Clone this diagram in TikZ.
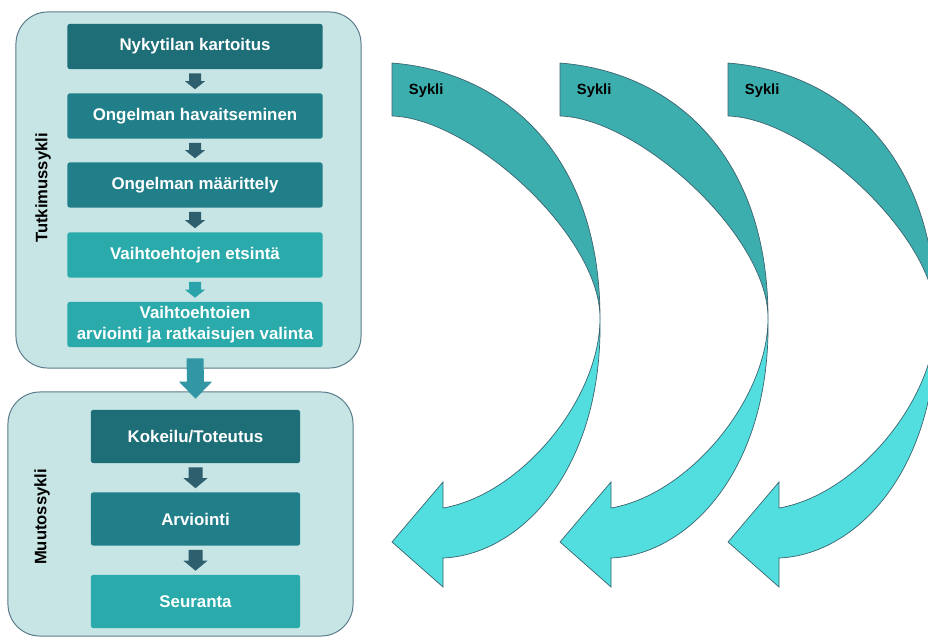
\documentclass[tikz,border=0pt]{standalone}
\usepackage{fontspec}
\setmainfont{Liberation Sans}
\usepackage{xcolor}
\usetikzlibrary{positioning,calc}

\definecolor{kehysvari}{HTML}{C7E5E5}
\definecolor{reuna}{HTML}{5B7B88}
\definecolor{tumma}{HTML}{1E6E78}
\definecolor{keski}{HTML}{217F8A}
\definecolor{vaalea}{HTML}{2AAAAA}
\definecolor{nuolitumma}{HTML}{2D5F6E}
\definecolor{nuolivaalea}{HTML}{2BA3AA}
\definecolor{isonuoli}{HTML}{3296A5}
\definecolor{kaaritumma}{HTML}{3DAEAE}
\definecolor{kaarivaalea}{HTML}{52DEDE}
\definecolor{kaarireuna}{HTML}{3C6470}

\tikzset{
  kehys/.style={draw=reuna, line width=0.7pt, fill=kehysvari, rounded corners=0.8cm},
  laatikko/.style={rounded corners=1.5pt, text=white, align=center, inner sep=0pt,
    font=\fontsize{12}{15}\selectfont\bfseries},
  sivu/.style={rotate=90, font=\fontsize{11.8}{14}\selectfont\bfseries},
  kaari/.style={draw=kaarireuna, line width=0.5pt}
}

% nuoli: vari, mista, mihin, rako, puolivarsi, puolikarki, karjen pituus
\newcommand{\nuoli}[7]{%
  \fill[#1] ($(#2.south)+(-#5,#4)$) -- ($(#3.north)+(-#5,-#4-#7)$) -- ($(#3.north)+(-#6,-#4-#7)$)
    -- ($(#3.north)+(0,-#4)$) -- ($(#3.north)+(#6,-#4-#7)$) -- ($(#3.north)+(#5,-#4-#7)$)
    -- ($(#2.south)+(#5,#4)$) -- cycle;}

\begin{document}
\begin{tikzpicture}[x=0.025cm, y=-0.025cm]
    \useasboundingbox (0,0) rectangle (928,638);
    \clip (0,0) rectangle (928,638);

    % kehykset
    \node[kehys, minimum width=8.625cm, minimum height=8.9cm] (tutkimus) at (188.5,190) {};
    \node[kehys, minimum width=8.625cm, minimum height=6.1cm] (muutos) at (180.5,514) {};
    \node[sivu] (tlabel) at (43,188) {Tutkimussykli};
    \node[sivu] (mlabel) at (42,517) {Muutossykli};

    % tutkimussykli
    \node[laatikko, fill=tumma, minimum width=6.375cm, minimum height=1.125cm] (t1) at (195,46.5) {Nykytilan kartoitus};
    \node[laatikko, fill=keski, minimum width=6.375cm, minimum height=1.125cm] (t2) at (195,116) {Ongelman havaitseminen};
    \node[laatikko, fill=keski, minimum width=6.375cm, minimum height=1.125cm] (t3) at (195,185) {Ongelman määrittely};
    \node[laatikko, fill=vaalea, minimum width=6.375cm, minimum height=1.125cm] (t4) at (195,255) {Vaihtoehtojen etsintä};
    \node[laatikko, fill=vaalea, minimum width=6.375cm, minimum height=1.125cm] (t5) at (195,324.5) {Vaihtoehtoien\\arviointi ja ratkaisujen valinta};
    \nuoli{nuolitumma}{t1}{t2}{4}{6}{10}{8}
    \nuoli{nuolitumma}{t2}{t3}{4}{6}{10}{8}
    \nuoli{nuolitumma}{t3}{t4}{4}{6}{10}{8}
    \nuoli{nuolivaalea}{t4}{t5}{4}{6}{10}{8}

    % muutossykli
    \node[laatikko, fill=tumma, minimum width=5.225cm, minimum height=1.325cm] (m1) at (195.5,436.5) {Kokeilu/Toteutus};
    \node[laatikko, fill=keski, minimum width=5.225cm, minimum height=1.325cm] (m2) at (195.5,519) {Arviointi};
    \node[laatikko, fill=vaalea, minimum width=5.225cm, minimum height=1.325cm] (m3) at (195.5,601.5) {Seuranta};
    \nuoli{nuolitumma}{m1}{m2}{4}{7}{12}{10}
    \nuoli{nuolitumma}{m2}{m3}{4}{7}{12}{10}

    % iso nuoli
    \nuoli{isonuoli}{t5}{m1}{11}{8.5}{16.5}{17}

    % syklit
    \foreach \s/\n in {0/1,168/2,336/3}{
      \begin{scope}[shift={(\s,0)}]
        \draw[kaari, fill=kaarivaalea] (600,318) .. controls (600,400) and (520,495) .. (443,508)
          -- (443,482) -- (392,542) -- (443,587) -- (443,558)
          .. controls (520,555) and (603,470) .. (600,318) -- cycle;
        \draw[kaari, fill=kaaritumma] (392,63) .. controls (505,72) and (600,155) .. (600,318)
          .. controls (600,235) and (470,118) .. (392,116) -- cycle;
        \node[anchor=west, font=\fontsize{10.5}{12}\selectfont\bfseries] (sykli\n) at (404,91) {Sykli};
      \end{scope}
    }
\end{tikzpicture}
\end{document}
